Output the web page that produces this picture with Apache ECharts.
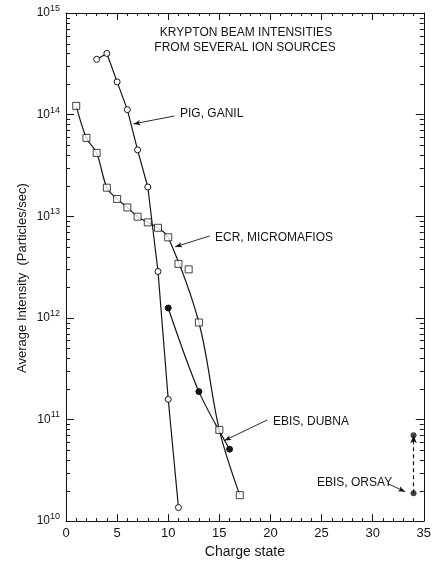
<!DOCTYPE html>
<html>
<head>
<meta charset="utf-8">
<title>Krypton beam intensities</title>
<script src="https://cdn.jsdelivr.net/npm/echarts/dist/echarts.min.js"></script>
<style>
  html, body { margin: 0; padding: 0; background: #fff; }
  #chart { width: 434px; height: 564px; }
</style>
</head>
<body>
<div id="chart"></div>
<script>
// Charge state vs. average intensity (particles/sec) for each ion source
const pigCharge = [3, 4, 5, 6, 7, 8, 9, 10, 11];
const pigIntensity = [3.5e14, 4.0e14, 2.1e14, 1.12e14, 4.5e13, 1.94e13, 2.86e12, 1.58e11, 1.36e10];

const ecrCharge = [1, 2, 3, 4, 5, 6, 7, 8, 9, 10, 11, 12, 13, 15, 17];
const ecrIntensity = [1.22e14, 5.9e13, 4.2e13, 1.91e13, 1.48e13, 1.22e13, 9.9e12, 8.7e12, 7.7e12, 6.2e12, 3.4e12, 3.0e12, 9.0e11, 7.9e10, 1.8e10];
// the drawn ECR curve is a smooth fit that passes beside the q=11 and q=12 points
const ecrCurveCharge = [1, 2, 3, 4, 5, 6, 7, 8, 9, 10, 13, 15, 17];
const ecrCurveIntensity = [1.22e14, 5.9e13, 4.2e13, 1.91e13, 1.48e13, 1.22e13, 9.9e12, 8.7e12, 7.7e12, 6.2e12, 9.0e11, 7.9e10, 1.8e10];

const dubnaCharge = [10, 13, 16];
const dubnaIntensity = [1.25e12, 1.88e11, 5.1e10];

const orsayCharge = [34, 34];
const orsayIntensity = [1.88e10, 7.0e10];

// axis extents and ticks
const xMin = 0, xMax = 35, xStep = 5;
const yMinExp = 10, yMaxExp = 15;
const minorMantissas = [2, 3, 4, 5, 6, 7, 8, 9];

const titleLines = ['KRYPTON BEAM INTENSITIES', 'FROM SEVERAL ION SOURCES'];

const pairs = (xs, ys) => xs.map((x, i) => [x, ys[i]]);

const minorTickValues = [];
for (let e = yMinExp; e < yMaxExp; e++) {
  minorMantissas.forEach(m => minorTickValues.push(m * Math.pow(10, e)));
}

const INK = '#141414';
const FONT = '"Liberation Sans", Arial, sans-serif';

// pointer arrows from each source label to its curve, in data coordinates
const pointerArrows = [
  { from: [10.61, 9.7e13], to: [6.6, 8.1e13] },
  { from: [14.06, 6.4e12], to: [10.68, 5.0e12] },
  { from: [19.7, 9.9e10], to: [15.49, 6.2e10] },
  { from: [31.46, 2.34e10], to: [33.18, 1.95e10] }
];

const chart = echarts.init(document.getElementById('chart'), null, { renderer: 'canvas' });

const labelText = (text, x, y) => ({
  type: 'text', silent: true, x: x, y: y,
  style: { text: text, fill: INK, font: '12px ' + FONT, textVerticalAlign: 'middle' }
});

const option = {
  animation: false,
  backgroundColor: '#fff',
  grid: { left: 66, right: 3, top: 13, bottom: 38 },
  xAxis: [
    {
      type: 'value', min: xMin, max: xMax, interval: xStep, position: 'bottom',
      axisLine: { show: true, onZero: false, lineStyle: { color: INK, width: 1 } },
      axisTick: { show: true, inside: true, length: 7, lineStyle: { color: INK, width: 1 } },
      minorTick: { show: true, splitNumber: 5, length: 3, lineStyle: { color: INK, width: 1 } },
      axisLabel: { color: INK, fontFamily: FONT, fontSize: 13, margin: 6 },
      splitLine: { show: false },
      name: 'Charge state', nameLocation: 'middle', nameGap: 19,
      nameTextStyle: { color: INK, fontFamily: FONT, fontSize: 14 }
    },
    {
      type: 'value', min: xMin, max: xMax, interval: xStep, position: 'top',
      axisLine: { show: true, onZero: false, lineStyle: { color: INK, width: 1 } },
      axisTick: { show: true, inside: true, length: 7, lineStyle: { color: INK, width: 1 } },
      minorTick: { show: true, splitNumber: 5, length: 3, lineStyle: { color: INK, width: 1 } },
      axisLabel: { show: false },
      splitLine: { show: false }
    }
  ],
  yAxis: [
    {
      type: 'log', logBase: 10, min: Math.pow(10, yMinExp), max: Math.pow(10, yMaxExp),
      position: 'left',
      axisLine: { show: true, onZero: false, lineStyle: { color: INK, width: 1 } },
      axisTick: { show: true, inside: true, length: 8, lineStyle: { color: INK, width: 1 } },
      axisLabel: {
        color: INK, fontFamily: FONT, margin: 6,
        formatter: v => '{b|10}{s|' + Math.round(Math.log10(v)) + '}',
        rich: {
          b: { fontSize: 12, fontFamily: FONT, color: INK },
          s: { fontSize: 9, fontFamily: FONT, color: INK, verticalAlign: 'bottom', padding: [0, 0, 9, 0] }
        }
      },
      splitLine: { show: false }
    },
    {
      type: 'log', logBase: 10, min: Math.pow(10, yMinExp), max: Math.pow(10, yMaxExp),
      position: 'right',
      axisLine: { show: true, onZero: false, lineStyle: { color: INK, width: 1 } },
      axisTick: { show: true, inside: true, length: 8, lineStyle: { color: INK, width: 1 } },
      axisLabel: { show: false },
      splitLine: { show: false }
    }
  ],
  graphic: [
    {
      type: 'text', silent: true, x: 246, y: 33,
      style: { text: titleLines[0], fill: INK, font: '12px ' + FONT, textAlign: 'center', textVerticalAlign: 'middle' }
    },
    {
      type: 'text', silent: true, x: 245, y: 48,
      style: { text: titleLines[1], fill: INK, font: '12px ' + FONT, textAlign: 'center', textVerticalAlign: 'middle' }
    },
    {
      type: 'text', silent: true, x: 22, y: 278, rotation: Math.PI / 2,
      style: { text: 'Average Intensity  (Particles/sec)', fill: INK, font: '13px ' + FONT, textAlign: 'center', textVerticalAlign: 'middle' }
    },
    labelText('PIG, GANIL', 180, 114),
    labelText('ECR, MICROMAFIOS', 215, 238),
    labelText('EBIS, DUBNA', 273, 422),
    labelText('EBIS, ORSAY', 317, 483)
  ],
  series: [
    {
      // minor log ticks on the left and right frames
      type: 'custom', silent: true, clip: false, z: 1,
      data: minorTickValues.map(v => [xMin, v]),
      renderItem: (params, api) => {
        const v = api.value(1);
        const l = api.coord([xMin, v]);
        const r = api.coord([xMax, v]);
        const y = Math.round(l[1]) + 0.5;
        const st = { stroke: INK, lineWidth: 1 };
        return {
          type: 'group',
          children: [
            { type: 'line', shape: { x1: l[0], y1: y, x2: l[0] + 4, y2: y }, style: st },
            { type: 'line', shape: { x1: r[0], y1: y, x2: r[0] - 4, y2: y }, style: st }
          ]
        };
      }
    },
    {
      name: 'PIG, GANIL', type: 'line', data: pairs(pigCharge, pigIntensity),
      symbol: 'circle', symbolSize: 6, smooth: false,
      lineStyle: { color: INK, width: 1.2 },
      itemStyle: { color: '#fff', borderColor: INK, borderWidth: 1 }, z: 3
    },
    {
      name: 'ECR curve', type: 'line', data: pairs(ecrCurveCharge, ecrCurveIntensity),
      showSymbol: false, symbol: 'none', smooth: 0.35,
      lineStyle: { color: INK, width: 1.2 }, z: 2
    },
    {
      name: 'ECR, MICROMAFIOS', type: 'scatter', data: pairs(ecrCharge, ecrIntensity),
      symbol: 'rect', symbolSize: 7,
      itemStyle: { color: '#fff', borderColor: INK, borderWidth: 1 }, z: 4
    },
    {
      name: 'EBIS, DUBNA', type: 'line', data: pairs(dubnaCharge, dubnaIntensity),
      symbol: 'circle', symbolSize: 6, smooth: 0.3,
      lineStyle: { color: INK, width: 1.2 },
      itemStyle: { color: INK, borderColor: INK, borderWidth: 1 }, z: 3
    },
    {
      name: 'EBIS, ORSAY', type: 'scatter', data: pairs(orsayCharge, orsayIntensity),
      symbol: 'circle', symbolSize: 6,
      itemStyle: { color: INK }, z: 5,
      markLine: {
        silent: true, symbol: ['none', 'arrow'], symbolSize: [5, 8],
        label: { show: false },
        lineStyle: { color: INK, width: 1.2, type: [4, 3] },
        data: [[{ coord: [orsayCharge[0], orsayIntensity[0]] }, { coord: [orsayCharge[1], orsayIntensity[1]] }]]
      }
    },
    {
      name: 'pointers', type: 'line', data: [], silent: true,
      markLine: {
        silent: true, symbol: ['none', 'arrow'], symbolSize: [4, 7],
        label: { show: false },
        lineStyle: { color: INK, width: 0.9, type: 'solid' },
        data: pointerArrows.map(a => [{ coord: a.from }, { coord: a.to }])
      }
    }
  ]
};

chart.setOption(option);
</script>
</body>
</html>
